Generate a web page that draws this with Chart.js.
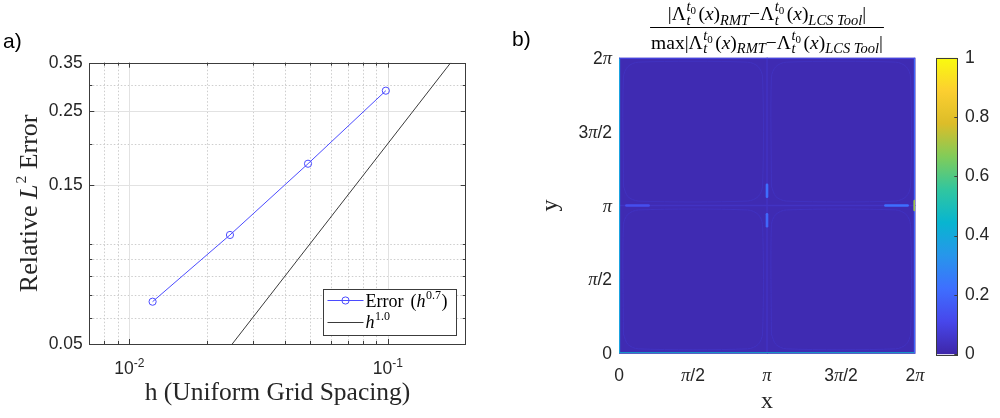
<!DOCTYPE html>
<html>
<head>
<meta charset="utf-8">
<title>Grid convergence and FTLE difference field</title>
<script src="https://cdn.jsdelivr.net/npm/chart.js@4/dist/chart.umd.min.js"></script>
<style>
  html, body { margin: 0; padding: 0; background: #fff; }
  body { width: 1000px; height: 418px; position: relative; overflow: hidden; }
  canvas { position: absolute; top: 0; }
</style>
</head>
<body>
<canvas id="convergence" width="500" height="418" style="left:0"></canvas>
<canvas id="errorField" width="425" height="418" style="left:500px"></canvas>
<canvas id="colorBar" width="75" height="418" style="left:925px"></canvas>
<script>
// ---------- panel a: convergence data ----------
const gridSpacing = [0.0123, 0.0245, 0.0491, 0.0982];
const relError    = [0.0670, 0.1063, 0.1740, 0.2884];
const refSpacing  = [0.025, 0.175];   // first-order reference line
const refError    = [0.05, 0.35];

const xDecadeTicks     = [0.01, 0.1];
const xDecadeExponents = ['-2', '-1'];
const xMinorTicks      = [0.008, 0.009, 0.02, 0.03, 0.04, 0.05, 0.06, 0.07, 0.08, 0.09];
const yMajorTicks      = [0.05, 0.15, 0.25, 0.35];
const yMajorLabels     = ['0.05', '0.15', '0.25', '0.35'];
const yMinorTicks      = [0.06, 0.07, 0.08, 0.09, 0.1, 0.2, 0.3];

// ---------- panel b: normalised difference field (coordinates in units of pi) ----------
const piTicks      = [0, 0.5, 1, 1.5, 2];
const piTickLabels = ['0', 'π/2', 'π', '3π/2', '2π'];
const quadrantError = [            // rows listed from top (y = 2π) to bottom
  [0.016, 0.016],
  [0.016, 0.016]
];
// separatrices, domain edges and local peaks
const ridgeX = [[1, 1], [0, 2], [0.003, 0.003], [0, 2], [1.997, 1.997], [0, 2],
                [1, 1], [1, 1], [0.05, 0.2], [1.8, 1.95], [1.998, 1.998]];
const ridgeY = [[0, 2], [1, 1], [0, 2], [0.003, 0.003], [0, 2], [1.997, 1.997],
                [1.06, 1.14], [0.86, 0.94], [1, 1], [1, 1], [0.97, 1.03]];
const ridgeLevel = [0.045, 0.045, 0.38, 0.45, 0.2, 0.12, 0.22, 0.2, 0.13, 0.22, 0.7];
// faint closed orbit near the boundary of each vortex cell
const cellRingX = [0.03, 0.03, 0.06, 0.13, 0.87, 0.94, 0.97, 0.97, 0.94, 0.87, 0.13, 0.06, 0.03];
const cellRingY = [0.13, 0.87, 0.94, 0.97, 0.97, 0.94, 0.87, 0.13, 0.06, 0.03, 0.03, 0.06, 0.13];
const cellOrigins = [[0, 0], [1, 0], [0, 1], [1, 1]];
const cellRingLevel = 0.04;

// parula colormap, 10 evenly spaced stops from 0 to 1
const parulaStops = ['#3e26a8', '#4747eb', '#3e6fff', '#2796eb', '#08b5d0',
                     '#31c69f', '#81cc59', '#dcbd29', '#fccf30', '#f9fb0e'];

// ---------- helpers ----------
const PI = Math.PI;
const SANS = '"Liberation Sans", Arial, sans-serif';
const SERIF = '"Liberation Serif", "Times New Roman", serif';
const INK = '#262626';
const fnt = (size, family, style) => (style ? style + ' ' : '') + size + 'px ' + family;

function hexRgb(h) { return [1, 3, 5].map(i => parseInt(h.slice(i, i + 2), 16)); }
function parula(v) {
  const n = parulaStops.length - 1;
  const p = Math.max(0, Math.min(1, v)) * n;
  const i = Math.min(n - 1, Math.floor(p)), t = p - i;
  const a = hexRgb(parulaStops[i]), b = hexRgb(parulaStops[i + 1]);
  const c = a.map((av, k) => Math.round(av + (b[k] - av) * t));
  return `rgb(${c[0]},${c[1]},${c[2]})`;
}

// inline rich text: parts {t, font, dy, pre, mark, reset}
function richLayout(ctx, parts) {
  let x = 0, markX = 0, groupMax = 0;
  const items = [];
  for (const p of parts) {
    ctx.font = p.font;
    if (p.reset) x = markX;
    x += p.pre || 0;
    if (p.mark) { markX = x; groupMax = x; }
    const w = ctx.measureText(p.t).width;
    items.push({ t: p.t, font: p.font, x, dy: p.dy || 0 });
    x += w;
    groupMax = Math.max(groupMax, x);
    if (p.reset) x = groupMax;
  }
  return { items, width: x };
}
function drawRich(ctx, parts, x, y, align, color, rotate) {
  const L = richLayout(ctx, parts);
  const x0 = align === 'center' ? -L.width / 2 : align === 'right' ? -L.width : 0;
  ctx.save();
  ctx.translate(x, y);
  if (rotate) ctx.rotate(rotate);
  ctx.fillStyle = color || '#000';
  ctx.textAlign = 'left';
  ctx.textBaseline = 'alphabetic';
  for (const it of L.items) { ctx.font = it.font; ctx.fillText(it.t, x0 + it.x, it.dy); }
  ctx.restore();
  return L.width;
}
function seg(ctx, x1, y1, x2, y2) { ctx.beginPath(); ctx.moveTo(x1, y1); ctx.lineTo(x2, y2); ctx.stroke(); }

// ---------- panel a ----------
const convergenceFrame = {
  id: 'convergenceFrame',
  beforeDatasetsDraw(chart) {
    const { ctx, chartArea: a, scales: { x, y } } = chart;
    ctx.save();
    ctx.lineWidth = 1;
    ctx.strokeStyle = '#cdcdcd';
    ctx.setLineDash([1.5, 2]);
    xMinorTicks.forEach(v => { const p = Math.round(x.getPixelForValue(v)) + 0.5; seg(ctx, p, a.top, p, a.bottom); });
    yMinorTicks.forEach(v => { const p = Math.round(y.getPixelForValue(v)) + 0.5; seg(ctx, a.left, p, a.right, p); });
    ctx.setLineDash([]);
    ctx.strokeStyle = '#e2e2e2';
    xDecadeTicks.forEach(v => { const p = Math.round(x.getPixelForValue(v)) + 0.5; seg(ctx, p, a.top, p, a.bottom); });
    yMajorTicks.slice(1, -1).forEach(v => { const p = Math.round(y.getPixelForValue(v)) + 0.5; seg(ctx, a.left, p, a.right, p); });
    ctx.restore();
  },
  afterDatasetsDraw(chart) {
    const { ctx, chartArea: a, scales: { x, y } } = chart;
    ctx.save();
    // axes box and inward ticks on all four sides
    ctx.strokeStyle = '#3c3c3c';
    ctx.lineWidth = 1;
    ctx.strokeRect(Math.round(a.left) + 0.5, Math.round(a.top) + 0.5, Math.round(a.right - a.left), Math.round(a.bottom - a.top));
    const tickX = (v, len) => { const p = Math.round(x.getPixelForValue(v)) + 0.5; seg(ctx, p, a.bottom, p, a.bottom - len); seg(ctx, p, a.top, p, a.top + len); };
    const tickY = (v, len) => { const p = Math.round(y.getPixelForValue(v)) + 0.5; seg(ctx, a.left, p, a.left + len, p); seg(ctx, a.right, p, a.right - len, p); };
    xDecadeTicks.forEach(v => tickX(v, 5));
    xMinorTicks.forEach(v => tickX(v, 3));
    yMajorTicks.forEach(v => tickY(v, 5));
    yMinorTicks.forEach(v => tickY(v, 3));
    // decade labels 10^k
    xDecadeTicks.forEach((v, i) => {
      drawRich(ctx, [
        { t: '10', font: fnt(17.5, SANS) },
        { t: xDecadeExponents[i], font: fnt(12, SANS), dy: -7.5 }
      ], x.getPixelForValue(v), a.bottom + 30, 'center', INK);
    });
    // legend
    const lw = 133, lh = 46;
    const L = Math.round(a.right - 10 - lw) + 0.5, T = Math.round(a.bottom - 9 - lh) + 0.5;
    ctx.fillStyle = '#fff';
    ctx.fillRect(L, T, lw, lh);
    ctx.strokeStyle = '#3c3c3c';
    ctx.strokeRect(L, T, lw, lh);
    const r1 = T + 11, r2 = T + 33;
    ctx.strokeStyle = '#4b4bff';
    seg(ctx, L + 4, r1, L + 40, r1);
    ctx.beginPath(); ctx.arc(L + 22, r1, 3.6, 0, 2 * PI); ctx.stroke();
    ctx.strokeStyle = '#3a3a3a';
    seg(ctx, L + 4, r2, L + 40, r2);
    drawRich(ctx, [
      { t: 'Error', font: fnt(18, SERIF) },
      { t: '(', font: fnt(18, SERIF), pre: 7 },
      { t: 'h', font: fnt(18, SERIF, 'italic') },
      { t: '0.7', font: fnt(12, SERIF), dy: -8, pre: 0.5 },
      { t: ')', font: fnt(18, SERIF), pre: 0.5 }
    ], L + 42, r1 + 6, 'left', '#000');
    drawRich(ctx, [
      { t: 'h', font: fnt(18, SERIF, 'italic') },
      { t: '1.0', font: fnt(12, SERIF), dy: -8, pre: 0.5 }
    ], L + 42, r2 + 5, 'left', '#000');
    ctx.restore();
  },
  afterDraw(chart) {
    const { ctx, chartArea: a } = chart;
    drawRich(ctx, [{ t: 'a)', font: fnt(21, SANS) }], 3, 48, 'left', '#000');
    drawRich(ctx, [
      { t: 'Relative ', font: fnt(26, SERIF) },
      { t: 'L', font: fnt(26, SERIF, 'italic') },
      { t: '2', font: fnt(15.5, SERIF), dy: -11.5, pre: 1 },
      { t: ' Error', font: fnt(26, SERIF) }
    ], 37, (a.top + a.bottom) / 2, 'center', INK, -PI / 2);
    drawRich(ctx, [{ t: 'h (Uniform Grid Spacing)', font: fnt(25.5, SERIF) }],
      (a.left + a.right) / 2, 400, 'center', INK);
  }
};

new Chart(document.getElementById('convergence'), {
  type: 'scatter',
  data: {
    datasets: [
      {
        label: 'Error (h^0.7)',
        data: gridSpacing.map((h, i) => ({ x: h, y: relError[i] })),
        showLine: true,
        borderColor: '#4b4bff',
        borderWidth: 1,
        pointStyle: 'circle',
        pointRadius: 3.6,
        pointBorderWidth: 1,
        pointBorderColor: '#4b4bff',
        pointBackgroundColor: 'rgba(0,0,0,0)'
      },
      {
        label: 'h^1.0',
        data: refSpacing.map((h, i) => ({ x: h, y: refError[i] })),
        showLine: true,
        borderColor: '#3a3a3a',
        borderWidth: 1,
        pointRadius: 0
      }
    ]
  },
  options: {
    responsive: false,
    animation: false,
    events: [],
    layout: { padding: { left: 0, top: 62.7, right: 34.3, bottom: 74 } },
    plugins: { legend: { display: false }, tooltip: { enabled: false } },
    scales: {
      x: { type: 'logarithmic', min: 0.007, max: 0.2, display: false },
      y: {
        type: 'logarithmic', min: 0.05, max: 0.35,
        afterBuildTicks: s => { s.ticks = yMajorTicks.map(v => ({ value: v })); },
        afterFit: s => { s.width = 89.3; },
        grid: { display: false, drawTicks: false },
        border: { display: false },
        ticks: {
          padding: 6.6,
          color: INK,
          font: { family: SANS, size: 17.5 },
          callback: (v, i) => yMajorLabels[i]
        }
      }
    }
  },
  plugins: [convergenceFrame]
});

// ---------- panel b ----------
function piLabelParts(s, size) {
  const k = s.indexOf('π');
  if (k < 0) return [{ t: s, font: fnt(size, SANS) }];
  const parts = [];
  if (k > 0) parts.push({ t: s.slice(0, k), font: fnt(size, SANS) });
  parts.push({ t: 'π', font: fnt(size + 1, SERIF, 'italic') });
  if (k < s.length - 1) parts.push({ t: s.slice(k + 1), font: fnt(size, SANS) });
  return parts;
}
const TF = 19.5, TS = 14.5, TSS = 11;   // title font sizes: main, script, second-level script
function lambdaTerm(subscript) {
  return [
    { t: 'Λ', font: fnt(TF, SERIF) },
    { t: 't', font: fnt(TS, SERIF, 'italic'), dy: -9, mark: true, pre: 0.5 },
    { t: '0', font: fnt(TSS, SERIF), dy: -6 },
    { t: 't', font: fnt(TS, SERIF, 'italic'), dy: 4.5, reset: true },
    { t: '(', font: fnt(TF, SERIF), pre: 2.5 },
    { t: 'x', font: fnt(TF, SERIF, 'italic') },
    { t: ')', font: fnt(TF, SERIF) },
    { t: subscript, font: fnt(TS, SERIF, 'italic'), dy: 4.5 }
  ];
}
function differenceParts() {
  return [
    { t: '|', font: fnt(TF, SERIF) },
    ...lambdaTerm('RMT'),
    { t: '−', font: fnt(TF, SERIF) },
    ...lambdaTerm('LCS Tool'),
    { t: '|', font: fnt(TF, SERIF) }
  ];
}

const errorFieldFrame = {
  id: 'errorFieldFrame',
  beforeDatasetsDraw(chart) {
    const { ctx, scales: { x, y } } = chart;
    const rows = quadrantError.length, cols = quadrantError[0].length;
    ctx.save();
    quadrantError.forEach((row, r) => row.forEach((v, c) => {
      const x0 = x.getPixelForValue(2 * PI * c / cols), x1 = x.getPixelForValue(2 * PI * (c + 1) / cols);
      const y0 = y.getPixelForValue(2 * PI * (rows - r) / rows), y1 = y.getPixelForValue(2 * PI * (rows - r - 1) / rows);
      ctx.fillStyle = parula(v);
      ctx.fillRect(x0, y0, x1 - x0 + 0.5, y1 - y0 + 0.5);
    }));
    ctx.restore();
  },
  afterDraw(chart) {
    const { ctx, chartArea: a, scales: { x, y } } = chart;
    // tick labels
    piTicks.forEach((v, i) => {
      drawRich(ctx, piLabelParts(piTickLabels[i], 17.5), x.getPixelForValue(v * PI), a.bottom + 27.5, 'center', INK);
      drawRich(ctx, piLabelParts(piTickLabels[i], 17.5), a.left - 7, y.getPixelForValue(v * PI) + 6, 'right', INK);
    });
    // axis titles
    drawRich(ctx, [{ t: 'x', font: fnt(24, SERIF) }], (a.left + a.right) / 2, 408, 'center', INK);
    drawRich(ctx, [{ t: 'y', font: fnt(24, SERIF) }], 57, (a.top + a.bottom) / 2, 'center', INK, -PI / 2);
    // fraction title
    const cx = (a.left + a.right) / 2;
    drawRich(ctx, differenceParts(), cx, 20, 'center', '#000');
    const wDen = drawRich(ctx, [{ t: 'max', font: fnt(TF, SERIF) }, ...differenceParts()], cx, 48.5, 'center', '#000');
    ctx.save();
    ctx.strokeStyle = '#000';
    ctx.lineWidth = 1;
    seg(ctx, cx - wDen / 2 - 1, 27.5, cx + wDen / 2 + 1, 27.5);
    ctx.restore();
    drawRich(ctx, [{ t: 'b)', font: fnt(21, SANS) }], 12, 46, 'left', '#000');
  }
};

// line features of the field, bottom-most first
const fieldLines = [];
cellOrigins.forEach(([ox, oy]) => fieldLines.push({
  xs: cellRingX.map(v => v + ox), ys: cellRingY.map(v => v + oy), level: cellRingLevel, kind: 'ring'
}));
ridgeX.forEach((xs, i) => {
  const ys = ridgeY[i];
  const span = Math.hypot(xs[1] - xs[0], ys[1] - ys[0]);
  fieldLines.push({ xs, ys, level: ridgeLevel[i], kind: span < 0.5 ? 'spot' : 'line' });
});
const lineWidthFor = { ring: 1, line: 1.4, spot: 2.6 };

new Chart(document.getElementById('errorField'), {
  type: 'scatter',
  data: {
    datasets: fieldLines.map(f => ({
      data: f.xs.map((v, k) => ({ x: v * PI, y: f.ys[k] * PI })),
      showLine: true,
      borderColor: parula(f.level),
      borderWidth: lineWidthFor[f.kind],
      borderCapStyle: 'round',
      tension: f.kind === 'ring' ? 0.3 : 0,
      pointRadius: 0,
      clip: 0
    })).reverse()
  },
  options: {
    responsive: false,
    animation: false,
    events: [],
    layout: { padding: { left: 119, top: 57.7, right: 10, bottom: 64.7 } },
    plugins: { legend: { display: false }, tooltip: { enabled: false } },
    scales: {
      x: { type: 'linear', min: 0, max: 2 * PI, display: false },
      y: { type: 'linear', min: 0, max: 2 * PI, display: false }
    }
  },
  plugins: [errorFieldFrame]
});

// ---------- colour bar ----------
const colorBarFrame = {
  id: 'colorBarFrame',
  afterDatasetsDraw(chart) {
    const { ctx, chartArea: a, scales: { y } } = chart;
    ctx.save();
    ctx.strokeStyle = '#3c3c3c';
    ctx.lineWidth = 1;
    ctx.strokeRect(Math.round(a.left) + 0.5, Math.round(a.top) + 0.5, Math.round(a.right - a.left), Math.round(a.bottom - a.top));
    y.ticks.forEach(t => {
      const p = Math.round(y.getPixelForValue(t.value)) + 0.5;
      seg(ctx, a.right, p, a.right - 3, p);
    });
    ctx.restore();
  }
};

new Chart(document.getElementById('colorBar'), {
  type: 'bar',
  data: {
    labels: [''],
    datasets: [{
      data: [[0, 1]],
      barPercentage: 1,
      categoryPercentage: 1,
      borderWidth: 0,
      backgroundColor: (c) => {
        const { chart } = c;
        if (!chart.chartArea) return parulaStops[0];
        const y = chart.scales.y;
        const g = chart.ctx.createLinearGradient(0, y.getPixelForValue(0), 0, y.getPixelForValue(1));
        parulaStops.forEach((col, i) => g.addColorStop(i / (parulaStops.length - 1), col));
        return g;
      }
    }]
  },
  options: {
    responsive: false,
    animation: false,
    events: [],
    layout: { padding: { left: 11, top: 57.7, right: 0, bottom: 63.7 } },
    plugins: { legend: { display: false }, tooltip: { enabled: false } },
    scales: {
      x: { display: false },
      y: {
        position: 'right', min: 0, max: 1,
        afterFit: s => { s.width = 42.7; },
        grid: { display: false, drawTicks: false },
        border: { display: false },
        ticks: {
          stepSize: 0.2,
          padding: 7.7,
          color: INK,
          font: { family: SANS, size: 17.5 },
          callback: v => String(Math.round(v * 10) / 10)
        }
      }
    }
  },
  plugins: [colorBarFrame]
});
</script>
</body>
</html>
